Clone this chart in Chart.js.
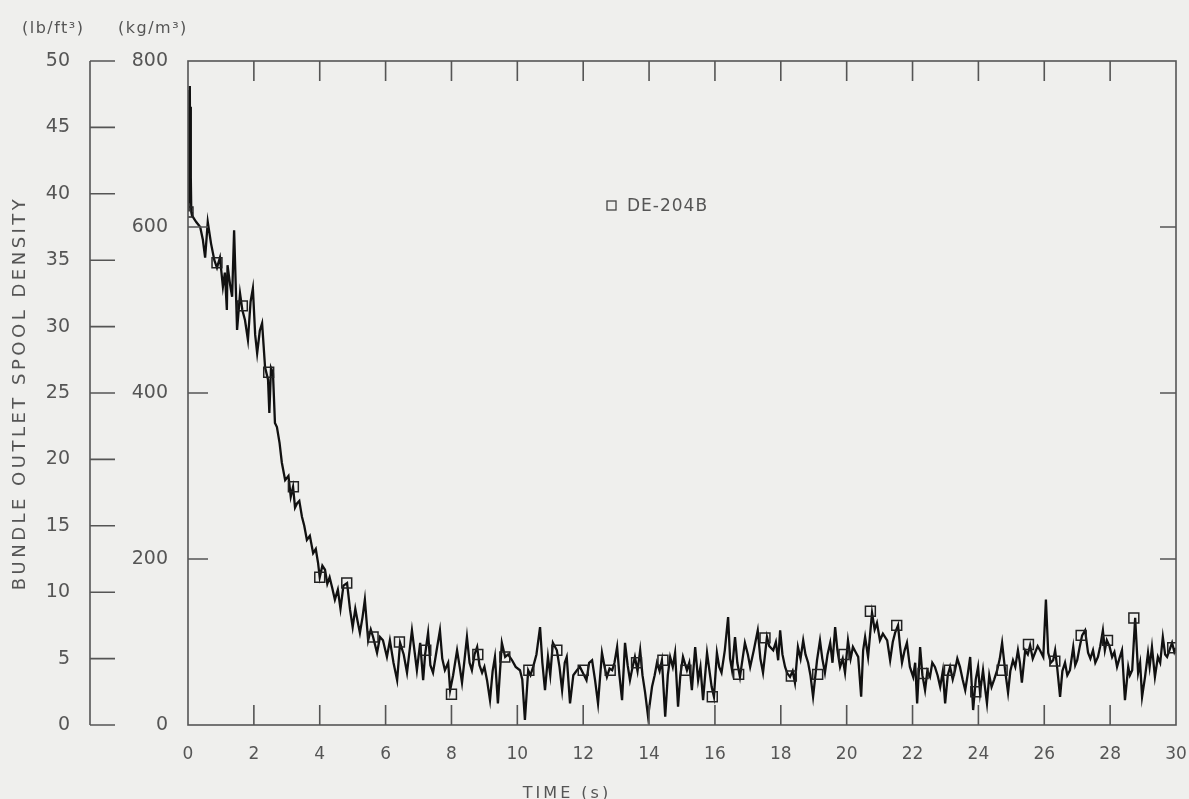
<!DOCTYPE html>
<html>
<head>
<meta charset="utf-8">
<script src="https://cdn.jsdelivr.net/npm/chart.js@4"></script>
<style>
  body { margin: 0; background: #efefed; }
  canvas { display: block; }
</style>
</head>
<body>
<canvas id="densityChart" width="1189" height="799"></canvas>
<script>
// DE-204B bundle outlet spool density (kg/m3)
const timesS = [
  0.00, 0.01, 0.02, 0.03, 0.04, 0.05, 0.06, 0.07, 0.08, 0.09, 0.10, 0.12, 0.25, 0.37, 0.45, 0.52, 0.60, 0.70, 0.80, 0.88, 0.97,
  1.06, 1.12, 1.18, 1.20, 1.28, 1.34, 1.40, 1.49, 1.58, 1.65, 1.73, 1.82, 1.90, 1.97, 2.04, 2.10, 2.18, 2.25, 2.34,
  2.43, 2.47, 2.52, 2.58, 2.64, 2.70, 2.78, 2.85, 2.95, 3.05, 3.12, 3.19, 3.25, 3.31, 3.38, 3.46, 3.53, 3.61, 3.70,
  3.80, 3.88, 3.95, 4.00, 4.08, 4.16, 4.23, 4.30, 4.38, 4.46, 4.55, 4.63, 4.72, 4.83, 4.92, 5.00, 5.08, 5.15, 5.22,
  5.30, 5.37, 5.47, 5.55, 5.62, 5.74, 5.83, 5.92, 6.04, 6.13, 6.24, 6.35, 6.44, 6.55, 6.65, 6.80, 6.95, 7.05, 7.14,
  7.20, 7.29, 7.36, 7.44, 7.55, 7.65, 7.72, 7.80, 7.90, 7.96, 8.05, 8.17, 8.25, 8.32, 8.40, 8.47, 8.55, 8.62, 8.70,
  8.78, 8.85, 8.93, 9.00, 9.08, 9.17, 9.25, 9.32, 9.41, 9.53, 9.63, 9.72, 9.84, 9.95, 10.08, 10.15, 10.23, 10.33,
  10.40, 10.48, 10.58, 10.69, 10.76, 10.84, 10.93, 11.00, 11.08, 11.20, 11.28, 11.36, 11.44, 11.50, 11.60, 11.70,
  11.81, 11.90, 12.00, 12.10, 12.18, 12.27, 12.36, 12.45, 12.57, 12.65, 12.72, 12.80, 12.88, 12.95, 13.03, 13.10,
  13.18, 13.27, 13.35, 13.42, 13.50, 13.57, 13.65, 13.73, 13.80, 13.88, 13.97, 14.09, 14.17, 14.24, 14.32, 14.39,
  14.49, 14.57, 14.64, 14.72, 14.79, 14.88, 14.95, 15.03, 15.15, 15.22, 15.30, 15.40, 15.49, 15.56, 15.64, 15.76,
  15.90, 15.97, 16.06, 16.13, 16.20, 16.30, 16.40, 16.46, 16.52, 16.61, 16.68, 16.76, 16.84, 16.91, 17.00, 17.07,
  17.18, 17.30, 17.38, 17.46, 17.58, 17.65, 17.77, 17.85, 17.92, 17.98, 18.05, 18.13, 18.20, 18.28, 18.36, 18.43,
  18.52, 18.60, 18.68, 18.75, 18.83, 18.90, 18.98, 19.10, 19.19, 19.26, 19.34, 19.42, 19.50, 19.57, 19.65, 19.72,
  19.80, 19.88, 19.95, 20.04, 20.12, 20.19, 20.27, 20.35, 20.44, 20.50, 20.56, 20.65, 20.77, 20.85, 20.92, 21.01,
  21.10, 21.23, 21.32, 21.40, 21.47, 21.56, 21.62, 21.68, 21.76, 21.83, 21.92, 22.02, 22.08, 22.14, 22.23, 22.30,
  22.38, 22.45, 22.53, 22.60, 22.68, 22.76, 22.84, 22.92, 22.99, 23.07, 23.14, 23.22, 23.29, 23.36, 23.44, 23.52,
  23.60, 23.68, 23.75, 23.84, 23.92, 23.99, 24.05, 24.14, 24.20, 24.26, 24.33, 24.40, 24.48, 24.57, 24.65, 24.72,
  24.81, 24.90, 24.97, 25.05, 25.12, 25.20, 25.26, 25.32, 25.42, 25.50, 25.57, 25.65, 25.72, 25.80, 25.87, 25.97,
  26.05, 26.12, 26.20, 26.27, 26.33, 26.39, 26.48, 26.55, 26.63, 26.70, 26.78, 26.88, 26.94, 27.00, 27.08, 27.15,
  27.24, 27.33, 27.40, 27.48, 27.55, 27.63, 27.70, 27.78, 27.84, 27.90, 27.98, 28.06, 28.13, 28.21, 28.28, 28.36,
  28.45, 28.55, 28.60, 28.67, 28.76, 28.85, 28.91, 28.97, 29.06, 29.15, 29.20, 29.27, 29.36, 29.45, 29.52, 29.60,
  29.67, 29.73, 29.80, 29.88, 29.95, 30.00
];
const densityKg = [
  620, 690, 700, 640, 765, 650, 770, 630, 745, 660, 618, 614, 606, 600, 585, 563, 606, 580, 560, 551, 563,
  528, 545, 500, 554, 530, 516, 596, 476, 520, 500, 488, 464, 510, 526, 470, 448, 475, 484, 431,
  416, 376, 430, 424, 364, 359, 340, 316, 295, 300, 275, 287, 262, 267, 270, 251, 240, 223, 228,
  207, 212, 195, 178, 192, 187, 170, 178, 165, 151, 163, 140, 168, 171, 139, 118, 140, 125, 111,
  130, 151, 102, 115, 106, 87, 106, 102, 82, 102, 75, 54, 99, 85, 63, 114, 66, 99, 54,
  85, 111, 72, 63, 90, 114, 80, 66, 75, 42, 60, 90, 70, 51, 80, 106, 75, 66, 85,
  94, 72, 63, 70, 54, 30, 65, 82, 26, 99, 82, 85, 78, 70, 66, 55, 6, 66,
  60, 70, 85, 118, 75, 42, 82, 60, 99, 90, 70, 42, 75, 82, 26, 60,
  66, 70, 62, 54, 75, 78, 54, 26, 87, 70, 58, 68, 66, 75, 94, 60,
  30, 99, 72, 54, 70, 82, 65, 90, 60, 39, 10, 46, 60, 75, 65, 78,
  10, 60, 82, 70, 87, 22, 60, 82, 66, 75, 42, 94, 54, 70, 30, 87,
  46, 34, 87, 70, 63, 90, 130, 80, 66, 106, 75, 58, 80, 99, 85, 70,
  90, 114, 80, 63, 106, 95, 90, 100, 78, 114, 85, 70, 62, 58, 65, 51,
  94, 80, 102, 85, 75, 60, 34, 78, 102, 80, 63, 85, 99, 75, 118, 90,
  70, 80, 63, 102, 80, 94, 88, 82, 34, 90, 106, 82, 135, 115, 123, 102,
  110, 102, 78, 100, 111, 120, 95, 75, 90, 99, 70, 58, 75, 26, 94, 60,
  42, 65, 58, 75, 70, 60, 46, 65, 26, 60, 70, 55, 66, 80, 70, 55,
  42, 62, 82, 18, 55, 70, 39, 66, 45, 26, 60, 46, 55, 66, 80, 99,
  66, 39, 65, 78, 70, 90, 75, 51, 90, 85, 96, 80, 87, 95, 90, 82,
  151, 87, 75, 78, 90, 70, 34, 65, 75, 60, 66, 94, 72, 78, 95, 108,
  114, 87, 80, 90, 75, 82, 95, 114, 90, 102, 95, 82, 88, 70, 80, 90,
  30, 70, 60, 66, 129, 63, 75, 34, 58, 87, 70, 94, 58, 82, 75, 106,
  85, 82, 90, 99, 88, 93
];
// open-square symbols along the trace
const markerTimes = [0, 0.88, 1.65, 2.45, 3.2, 4.0, 4.82, 5.62, 6.42, 7.22, 8.0, 8.8, 9.62, 10.35, 11.2, 12.0,
  12.82, 13.62, 14.42, 15.12, 15.92, 16.72, 17.52, 18.32, 19.12, 19.92, 20.72, 21.52, 22.32, 23.12, 23.92,
  24.72, 25.52, 26.32, 27.12, 27.92, 28.72, 29.9];
const markerKg = [618, 557, 505, 425, 287, 178, 171, 106, 100, 90, 37, 85, 82, 66, 90, 66,
  66, 75, 78, 66, 34, 61, 105, 59, 61, 85, 137, 120, 62, 66, 40,
  66, 97, 77, 108, 102, 129, 93];

const xTickStep = 2;
const kgTickStep = 200;
const lbTickStep = 5;
const seriesName = "DE-204B";

const ink = "#111";
const axisGray = "#555";
const textGray = "#555";
const paper = "#efefed";

Chart.defaults.font.family = "'DejaVu Sans', sans-serif";
Chart.defaults.font.size = 17;
Chart.defaults.color = textGray;

const framePlugin = {
  id: "frame",
  beforeDraw(chart) {
    const ctx = chart.ctx;
    ctx.save();
    ctx.fillStyle = paper;
    ctx.fillRect(0, 0, chart.width, chart.height);
    ctx.restore();
  },
  afterDraw(chart) {
    const { ctx, chartArea: a } = chart;
    const xs = chart.scales.x, ys = chart.scales.y, lb = chart.scales.yLb;
    ctx.save();
    ctx.strokeStyle = axisGray;
    ctx.lineWidth = 1.6;
    ctx.strokeRect(a.left, a.top, a.right - a.left, a.bottom - a.top);
    ctx.beginPath();
    xs.ticks.forEach((t) => {
      if (t.value <= xs.min || t.value >= xs.max) return;
      const px = xs.getPixelForValue(t.value);
      ctx.moveTo(px, a.bottom); ctx.lineTo(px, a.bottom - 20);
      ctx.moveTo(px, a.top); ctx.lineTo(px, a.top + 20);
    });
    ys.ticks.forEach((t) => {
      if (t.value <= ys.min || t.value >= ys.max) return;
      const py = ys.getPixelForValue(t.value);
      ctx.moveTo(a.left, py); ctx.lineTo(a.left + 20, py);
      ctx.moveTo(a.right, py); ctx.lineTo(a.right - 16, py);
    });
    // outer lb/ft3 axis
    const ax = lb.right;
    ctx.moveTo(ax, lb.getPixelForValue(0)); ctx.lineTo(ax, lb.getPixelForValue(50));
    lb.ticks.forEach((t) => {
      const py = lb.getPixelForValue(t.value);
      ctx.moveTo(ax, py); ctx.lineTo(ax + 25, py);
    });
    ctx.stroke();

    // unit headers and axis titles
    ctx.fillStyle = textGray;
    ctx.textBaseline = "middle";
    ctx.font = "16px 'DejaVu Sans'";
    ctx.letterSpacing = "1.5px";
    ctx.textAlign = "left";
    ctx.fillText("(lb/ft³)", 22, 29);
    ctx.fillText("(kg/m³)", 118, 29);

    ctx.font = "16px 'DejaVu Sans'";
    ctx.letterSpacing = "3px";
    ctx.textAlign = "center";
    ctx.fillText("TIME (s)", 567, 794);

    ctx.save();
    ctx.translate(20, (a.top + a.bottom) / 2);
    ctx.rotate(-Math.PI / 2);
    ctx.font = "18px 'DejaVu Sans'";
    ctx.letterSpacing = "3.5px";
    ctx.fillText("BUNDLE OUTLET SPOOL DENSITY", 0, 0);
    ctx.restore();

    // legend
    ctx.letterSpacing = "1px";
    ctx.strokeStyle = "#444";
    ctx.lineWidth = 1.3;
    ctx.strokeRect(607, 201, 9, 9);
    ctx.font = "17px 'DejaVu Sans'";
    ctx.textAlign = "left";
    ctx.fillText(seriesName, 627, 207);
    ctx.restore();
  }
};

new Chart(document.getElementById("densityChart"), {
  type: "line",
  data: {
    datasets: [
      {
        label: seriesName + " markers",
        data: markerTimes.map((t, i) => ({ x: t, y: markerKg[i] })),
        showLine: false,
        pointStyle: "rect",
        pointRadius: 7,
        pointBorderWidth: 1.5,
        pointBorderColor: "#222",
        pointBackgroundColor: "rgba(0,0,0,0)",
        order: 0
      },
      {
        label: seriesName,
        data: timesS.map((t, i) => ({ x: t, y: densityKg[i] })),
        borderColor: ink,
        borderWidth: 2.3,
        pointRadius: 0,
        tension: 0,
        order: 1
      }
    ]
  },
  options: {
    responsive: false,
    animation: false,
    layout: { padding: { left: 8, right: 13, top: 61, bottom: 0 } },
    plugins: { legend: { display: false }, tooltip: { enabled: false } },
    scales: {
      x: {
        type: "linear",
        min: 0,
        max: 30,
        grid: { display: false },
        border: { display: false },
        ticks: { stepSize: xTickStep, padding: 11, maxRotation: 0, font: { size: 17 } },
        afterFit(s) {
          s.height = 74;
          s.paddingRight = 0;
        }
      },
      y: {
        position: "left",
        weight: 0,
        min: 0,
        max: 800,
        grid: { display: false },
        border: { display: false },
        ticks: { stepSize: kgTickStep, padding: 12, font: { size: 19 } },
        afterFit(s) { s.width = 98; }
      },
      yLb: {
        position: "left",
        weight: 1,
        min: 0,
        max: 50,
        grid: { display: false },
        border: { display: false },
        ticks: { stepSize: lbTickStep, padding: 12, font: { size: 19 } },
        afterFit(s) { s.width = 82; }
      }
    }
  },
  plugins: [framePlugin]
});
</script>
</body>
</html>
